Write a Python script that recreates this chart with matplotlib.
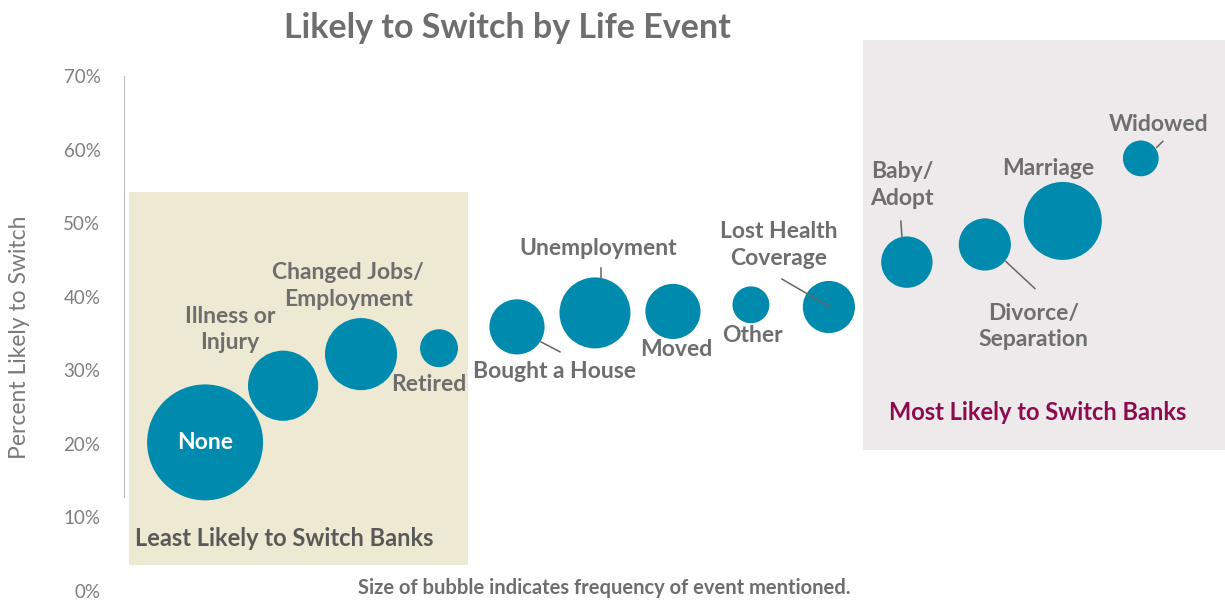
import matplotlib
matplotlib.use("Agg")
import matplotlib.pyplot as plt
from matplotlib.patches import Rectangle
from matplotlib.lines import Line2D
from matplotlib.transforms import IdentityTransform

# Data
events = ["None", "Illness or\nInjury", "Changed Jobs/\nEmployment", "Retired",
          "Bought a House", "Unemployment", "Moved", "Other",
          "Lost Health\nCoverage", "Baby/\nAdopt", "Divorce/\nSeparation",
          "Marriage", "Widowed"]
pct_switch = [20.2, 27.9, 32.2, 33.0, 35.9, 37.8, 38.0, 38.9, 38.6, 44.7, 47.1, 50.3, 58.8]
# relative frequency of the event being mentioned (bubble area)
frequency = [33.6, 12.3, 13.0, 3.6, 7.6, 12.6, 7.6, 3.4, 6.8, 6.6, 6.8, 15.2, 3.2]
y_ticks = [0, 10, 20, 30, 40, 50, 60, 70]

# label offsets from bubble centre in pixels (dx right, dy up)
label_off = [(0, 0), (-53, 56), (-13, 68), (-10, -36), (38, -45), (3, 64), (3, -38),
             (2, -31), (-50, 62), (-5, 77), (49, -82), (-15, 52), (18, 34)]
# leader lines: (index, start offset, end offset) in pixels (dy down)
leaders = [(4, (24, 15), (43, 25)), (5, (6, -45), (6, -35)), (8, (-47, -28), (1, 0)),
           (9, (-6, -41), (-5, -26)), (10, (21, 17), (50, 44)), (12, (22, -17), (16, -11))]

teal = "#008AAD"
grey = "#6E6E6E"
px = 0.72  # pixels -> points at dpi 100

plt.rcParams["font.family"] = ["Lato", "DejaVu Sans"]

fig = plt.figure(figsize=(12.25, 6.02), dpi=100)
fig.patch.set_facecolor("white")
ax = fig.add_axes([124 / 1225, 11 / 602, 1101 / 1225, 515 / 602])
ax.set_facecolor("none")

# highlight boxes
fig.add_artist(Rectangle((129 / 1225, 37 / 602), 339 / 1225, 373 / 602,
                         transform=fig.transFigure, facecolor="#EEE9D2",
                         edgecolor="none", zorder=-1))
fig.add_artist(Rectangle((863 / 1225, 152 / 602), 362 / 1225, 410 / 602,
                         transform=fig.transFigure, facecolor="#EEEAEB",
                         edgecolor="none", zorder=-1))

xs = list(range(1, len(events) + 1))
sizes = [207.4 * f for f in frequency]
ax.scatter(xs, pct_switch, s=sizes, color=teal, edgecolors="none", zorder=3)

ax.set_xlim(-0.04, 14.08)
ax.set_ylim(0, 70)

for i, (name, x, y) in enumerate(zip(events, xs, pct_switch)):
    dx, dy = label_off[i]
    if i == 0:
        ax.text(x, y, name, color="white", fontsize=16.5, fontweight="bold",
                ha="center", va="center", zorder=4)
        continue
    ax.annotate(name, (x, y), xytext=(dx * px, dy * px), textcoords="offset points",
                ha="center", va="center", fontsize=16.5, fontweight="bold",
                color=grey, linespacing=1.32, zorder=4)

# leader lines, placed in display pixels around each bubble
for i, (x0, y0), (x1, y1) in leaders:
    cx, cy = ax.transData.transform((xs[i], pct_switch[i]))
    fig.add_artist(Line2D([cx + x0, cx + x1], [cy - y0, cy - y1],
                          transform=IdentityTransform(), color="#666666", lw=1.1,
                          zorder=5))

ax.set_xticks([])
ax.set_yticks(y_ticks)
ax.set_yticklabels([f"{t}%" for t in y_ticks], color="#7F7F7F", fontsize=13.5)
ax.tick_params(axis="y", length=0, pad=17)
for side in ["top", "right", "bottom"]:
    ax.spines[side].set_visible(False)
ax.spines["left"].set_color("#BFBFBF")
ax.spines["left"].set_bounds(12.8, 70)

fig.text(20 / 1225, 1 - 337 / 602, "Percent Likely to Switch", rotation=90,
         ha="center", va="center", fontsize=16.5, fontweight="normal", color="#7A7A7A")
fig.text(507 / 1225, 1 - 28 / 602, "Likely to Switch by Life Event", ha="center",
         va="center", fontsize=24.5, fontweight="bold", color="#6E6E6E")
fig.text(284 / 1225, 1 - 539 / 602, "Least Likely to Switch Banks", ha="center",
         va="center", fontsize=17, fontweight="bold", color="#595959")
fig.text(1038 / 1225, 1 - 413 / 602, "Most Likely to Switch Banks", ha="center",
         va="center", fontsize=17, fontweight="bold", color="#8C0B4F")
fig.text(604 / 1225, 1 - 588 / 602, "Size of bubble indicates frequency of event mentioned.",
         ha="center", va="center", fontsize=14.5, fontweight="bold", color="#6E6E6E")

fig.savefig("out.png", dpi=100)
